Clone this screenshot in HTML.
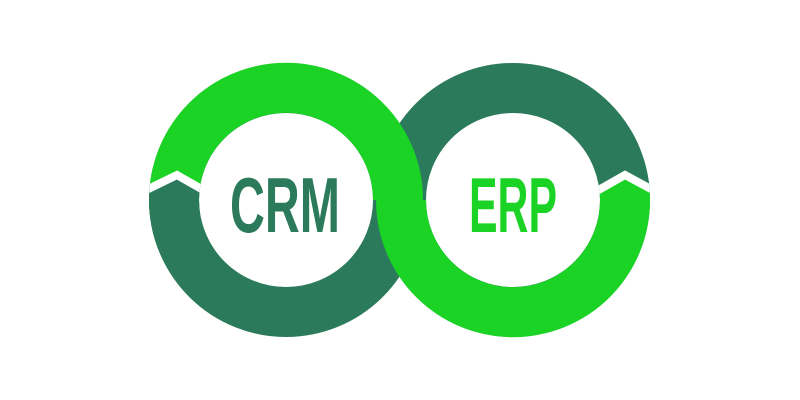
<!DOCTYPE html>
<html><head><meta charset="utf-8"><style>html,body{margin:0;padding:0;background:#fff}svg{display:block}</style></head>
<body>
<svg width="800" height="400" viewBox="0 0 800 400" xmlns="http://www.w3.org/2000/svg">
<defs>
<clipPath id="cl"><path clip-rule="evenodd" d="M149,200a137,137 0 1,0 274,0a137,137 0 1,0 -274,0zM199,200a87,87 0 1,0 174,0a87,87 0 1,0 -174,0z"/></clipPath>
<clipPath id="cr"><path clip-rule="evenodd" d="M376,200a137,137 0 1,0 274,0a137,137 0 1,0 -274,0zM426,200a87,87 0 1,0 174,0a87,87 0 1,0 -174,0z"/></clipPath>
</defs>
<g fill="none" stroke-width="50">
<circle cx="513" cy="200" r="112" stroke="#2b7a5b"/>
<circle cx="286" cy="200" r="112" stroke="#2b7a5b"/>
<path d="M174.3,208 A112,112 0 1,1 398,200" stroke="#1ad324"/>
<path d="M401,200 A112,112 0 1,0 621.4,172" stroke="#1ad324"/>
</g>
<g clip-path="url(#cl)">
<polygon points="140,188 177,175 215,190 215,250 140,250" fill="#2b7a5b"/>
<polyline points="140,193 177,175 212,195" fill="none" stroke="#fff" stroke-width="8"/>
</g>
<g clip-path="url(#cr)">
<polygon points="590,189 625,175 660,188 660,130 590,130" fill="#2b7a5b"/>
<polyline points="588,196 625,175 662,195" fill="none" stroke="#fff" stroke-width="8"/>
</g>
<text x="230" y="232" font-family="Liberation Sans, sans-serif" font-weight="bold" font-size="78" fill="#2b7a5b" textLength="110" lengthAdjust="spacingAndGlyphs">CRM</text>
<text x="469" y="232" font-family="Liberation Sans, sans-serif" font-weight="bold" font-size="78" fill="#1ad324" textLength="88" lengthAdjust="spacingAndGlyphs">ERP</text>
</svg>
</body></html>
